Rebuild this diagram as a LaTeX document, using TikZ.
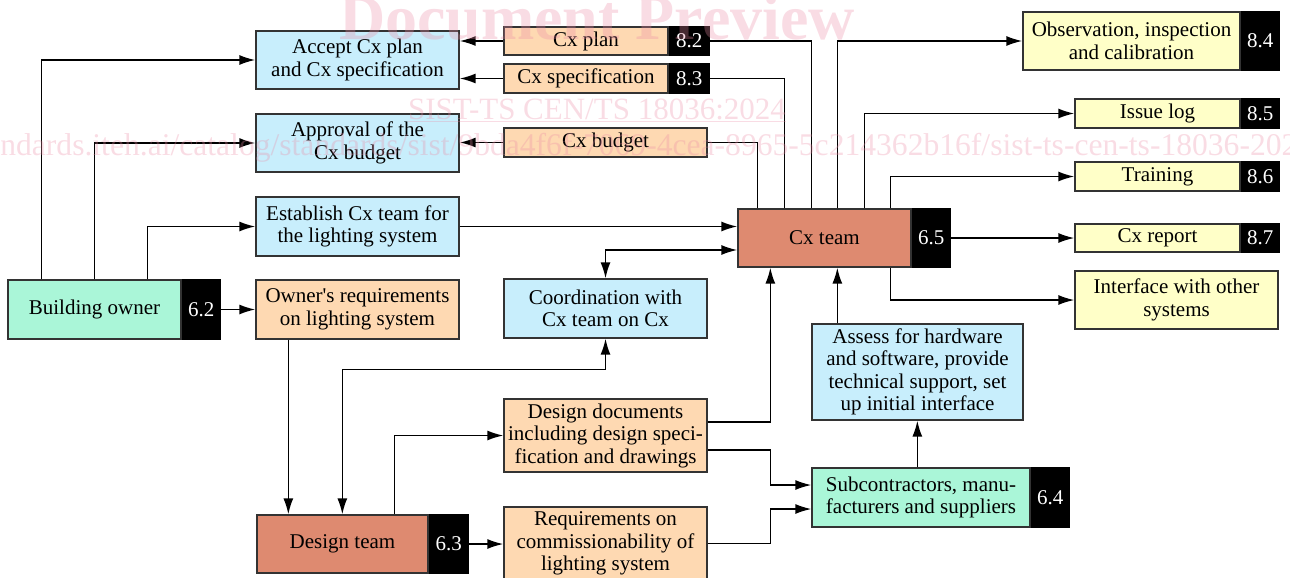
\documentclass[tikz,border=0pt]{standalone}
\usepackage{fontspec}
\setmainfont{Liberation Serif}
\usetikzlibrary{arrows.meta,calc}
\definecolor{cblue}{RGB}{200,238,252}
\definecolor{cpeach}{RGB}{254,217,178}
\definecolor{cmint}{RGB}{170,246,216}
\definecolor{csalmon}{RGB}{222,138,112}
\definecolor{cyellow}{RGB}{255,255,200}
\definecolor{wm}{RGB}{235,140,165}
\begin{document}
\begin{tikzpicture}[x=1pt,y=-1pt,
  box/.style={draw=black!80, line width=1.3pt, inner sep=0pt, align=center,
    font=\fontsize{21}{22.5}\selectfont},
  bbox/.style={box, fill=cblue},
  pbox/.style={box, fill=cpeach},
  gbox/.style={box, fill=cmint},
  sbox/.style={box, fill=csalmon},
  ybox/.style={box, fill=cyellow},
  tagbox/.style={box, fill=black, draw=black, text=white, anchor=west},
  ln/.style={line width=1.6pt},
  arr/.style={line width=1.6pt, -{Latex[length=16pt,width=10pt]}},
  darr/.style={line width=1.6pt, {Latex[length=16pt,width=10pt]}-{Latex[length=16pt,width=10pt]}},
  wmark/.style={text=wm, opacity=0.3, inner sep=0pt}
]
\useasboundingbox (0,0) rectangle (1290,578);

% left column
\node[bbox, minimum width=203pt, minimum height=58pt] (accept) at (357.5,60) {Accept Cx plan\\and Cx specification};
\node[bbox, minimum width=203pt, minimum height=58pt] (approval) at (357.5,143) {Approval of the\\Cx budget};
\node[bbox, minimum width=203pt, minimum height=59pt] (establish) at (357.5,226.5) {Establish Cx team for\\the lighting system};
\node[pbox, minimum width=203pt, minimum height=59pt] (ownreq) at (357.5,309.5) {Owner\textquotesingle s requirements\\on lighting system};

\node[gbox, minimum width=173pt, minimum height=59pt] (owner) at (94.5,309.5) {Building owner};
\node[tagbox, minimum width=38pt, minimum height=59pt] (ownerN) at (owner.east) {6.2};

% middle column
\node[pbox, minimum width=164pt, minimum height=28pt] (plan) at (586,41) {Cx plan};
\node[tagbox, minimum width=40pt, minimum height=28pt] (planN) at (plan.east) {8.2};
\node[pbox, minimum width=164pt, minimum height=29pt] (spec) at (586,78.5) {Cx specification};
\node[tagbox, minimum width=40pt, minimum height=29pt] (specN) at (spec.east) {8.3};
\node[pbox, minimum width=203pt, minimum height=29pt] (budget) at (605.5,142.5) {Cx budget};
\node[bbox, minimum width=203pt, minimum height=59pt] (coord) at (605.5,308.5) {Coordination with\\Cx team on Cx};
\node[pbox, minimum width=203pt, minimum height=73pt] (docs) at (605.5,435.5) {Design documents\\including design speci-\\fication and drawings};
\node[pbox, minimum width=203pt, minimum height=73pt] (req) at (605.5,543.5) {Requirements on\\commissionability of\\lighting system};

\node[sbox, minimum width=171pt, minimum height=58pt] (design) at (342.5,544) {Design team};
\node[tagbox, minimum width=39pt, minimum height=58pt] (designN) at (design.east) {6.3};

% Cx team
\node[sbox, minimum width=173pt, minimum height=58pt] (cx) at (824.5,238) {Cx team};
\node[tagbox, minimum width=38pt, minimum height=58pt] (cxN) at (cx.east) {6.5};

\node[bbox, minimum width=211pt, minimum height=96pt] (assess) at (917.5,372) {Assess for hardware\\and software, provide\\technical support, set\\up initial interface};
\node[gbox, minimum width=218pt, minimum height=59pt] (sub) at (921,497.5) {Subcontractors, manu-\\facturers and suppliers};
\node[tagbox, minimum width=38pt, minimum height=59pt] (subN) at (sub.east) {6.4};

% right column
\node[ybox, minimum width=217pt, minimum height=58pt] (obs) at (1131.5,41) {Observation, inspection\\and calibration};
\node[tagbox, minimum width=38pt, minimum height=58pt] (obsN) at (obs.east) {8.4};
\node[ybox, minimum width=165pt, minimum height=29pt] (issue) at (1157.5,113.5) {Issue log};
\node[tagbox, minimum width=38pt, minimum height=29pt] (issueN) at (issue.east) {8.5};
\node[ybox, minimum width=165pt, minimum height=29pt] (training) at (1157.5,176.5) {Training};
\node[tagbox, minimum width=38pt, minimum height=29pt] (trainingN) at (training.east) {8.6};
\node[ybox, minimum width=165pt, minimum height=28pt] (report) at (1157.5,238) {Cx report};
\node[tagbox, minimum width=38pt, minimum height=28pt] (reportN) at (report.east) {8.7};
\node[ybox, minimum width=203pt, minimum height=58pt] (iface) at (1176.5,300) {Interface with other\\systems};

% connectors from building owner
\coordinate (o1) at ([xshift=34pt]owner.north west);
\coordinate (o2) at ([xshift=87pt]owner.north west);
\coordinate (o3) at ([xshift=140pt]owner.north west);
\draw[arr] (o1) |- (accept.west);
\draw[arr] (o2) |- (approval.west);
\draw[arr] (o3) |- (establish.west);
\draw[arr] (ownerN.east) -- (ownreq.west);

% owner's requirements to design team
\coordinate (r1) at ([xshift=33pt]ownreq.south west);
\draw[arr] (r1) -- (r1 |- design.north);

% design team <-> coordination
\coordinate (d2) at ([xshift=86pt]design.north west);
\coordinate (c1) at ($(coord.south)+(0,31)$);
\draw[darr] (d2) |- (c1) -- (coord.south);
% coordination <-> Cx team
\draw[darr] (coord.north) |- ([yshift=-12pt]cx.west);
% establish -> Cx team
\draw[arr] (establish.east) -- (establish.east -| cx.west);

% Cx team outputs (top)
\coordinate (t1) at ([xshift=20pt]cx.north west);
\coordinate (t2) at ([xshift=47pt]cx.north west);
\coordinate (t3) at ([xshift=74pt]cx.north west);
\coordinate (t4) at ([xshift=100pt]cx.north west);
\coordinate (t5) at ([xshift=127pt]cx.north west);
\coordinate (t6) at ([xshift=153pt]cx.north west);
\draw[ln] (t1) |- (budget.east);
\draw[arr] (budget.west) -- (budget.west -| approval.east);
\draw[ln] (t2) |- (specN.east);
\draw[arr] (spec.west) -- (spec.west -| accept.east);
\draw[ln] (t3) |- (planN.east);
\draw[arr] (plan.west) -- (plan.west -| accept.east);
\draw[arr] (t4) |- (obs.west);
\draw[arr] (t5) |- (issue.west);
\draw[arr] (t6) |- (training.west);
\draw[arr] (cxN.east) -- (cxN.east -| report.west);
\coordinate (t7) at ([xshift=153pt]cx.south west);
\draw[arr] (t7) |- (iface.west);

% inputs to Cx team from below
\coordinate (a1) at ([xshift=26pt]assess.north west);
\draw[arr] (a1) -- (a1 |- cx.south);
\coordinate (bx) at ([xshift=33pt]cx.south west);
\draw[arr] ([yshift=13.5pt]docs.east) -| (bx);

% to subcontractors
\coordinate (b1) at ($(bx |- sub.west)+(0,-12.5)$);
\coordinate (b2) at ($(bx |- sub.west)+(0,11.5)$);
\draw[arr] ([yshift=-14.5pt]docs.east) -| (b1) -- (b1 -| sub.west);
\draw[arr] (req.east) -| (b2) -- (b2 -| sub.west);
\coordinate (s1) at ([xshift=106pt]sub.north west);
\draw[arr] (s1) -- (s1 |- assess.south);

% design team outputs
\coordinate (d1) at ([xshift=138pt]design.north west);
\draw[arr] (d1) |- (docs.west);
\draw[arr] (designN.east) -- (designN.east -| req.west);

% watermark
\node[wmark, anchor=base, font=\bfseries\fontsize{64}{64}\selectfont] (wm1) at (597,40) {Document Preview};
\node[wmark, anchor=base, font=\fontsize{31}{31}\selectfont] (wm2) at (597,119) {\underline{SIST-TS CEN/TS 18036:2024}};
\node[wmark, anchor=base west, font=\fontsize{31.6}{31.6}\selectfont] (wm3) at (-35,155) {standards.iteh.ai/catalog/standards/sist/9bda4f6f-7069-4cea-8965-5c214362b16f/sist-ts-cen-ts-18036-2024};
\end{tikzpicture}
\end{document}
